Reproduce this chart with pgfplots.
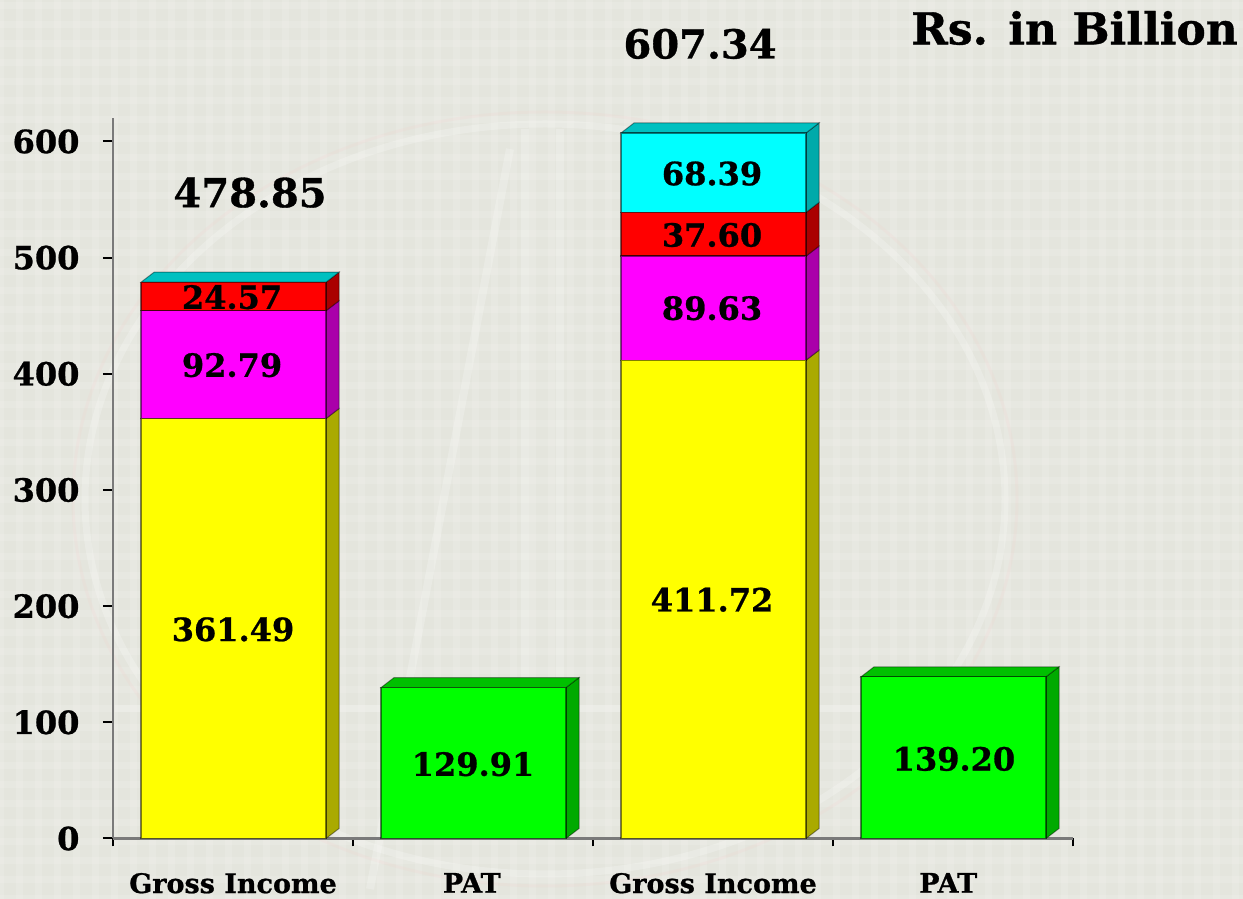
\documentclass[border=0pt]{standalone}
\usepackage{fontspec}
\setmainfont{DejaVu Serif}[BoldFeatures={FakeBold=0.8}]
\usepackage{pgfplots}
\usepackage{pgfplotstable}
\pgfplotsset{compat=1.18}

\definecolor{paper}{HTML}{E4E5DD}
\definecolor{axgrey}{HTML}{7A7A7A}
\definecolor{cyel}{RGB}{255,255,0}
\definecolor{cmag}{RGB}{255,0,255}
\definecolor{cred}{RGB}{255,0,0}
\definecolor{ccya}{RGB}{0,255,255}
\definecolor{cgre}{RGB}{0,255,0}
\definecolor{syel}{RGB}{170,170,0}
\definecolor{smag}{RGB}{170,0,170}
\definecolor{sred}{RGB}{170,0,0}
\definecolor{scya}{RGB}{0,170,170}
\definecolor{sgre}{RGB}{0,170,0}
\definecolor{tcya}{RGB}{0,192,192}
\definecolor{tgre}{RGB}{0,192,0}

% front faces of the columns, x in bins of the axis
\pgfplotstableread{
x     yellow  magenta red    cyan   green
0.502 361.49  92.79   24.57  0      0
1.502 0       0       0      0      129.91
2.502 411.72  89.63   37.60  68.39  0
3.502 0       0       0      0      139.20
}\incometable

\pgfplotsset{
    face/.style={fill=#1, draw=black, draw opacity=0.5, line width=1.2pt},
    side/.style={fill=#1, draw=black, draw opacity=0.4, line width=1pt, no markers, forget plot},
    same box/.style={
        at={(113pt,60.5pt)}, anchor=south west,
        scale only axis, width=960pt, height=720pt,
        xmin=0, xmax=4, ymin=0, ymax=619.8,
    },
}
\tikzset{
    lab/.style={font=\fontsize{32}{32}\selectfont\bfseries, inner sep=0pt},
    big/.style={font=\fontsize{40}{40}\selectfont\bfseries, inner sep=0pt},
}

\begin{document}
\begin{tikzpicture}
\useasboundingbox (0,0) rectangle (1243pt,899pt);
\fill[paper] (0,0) rectangle (1243pt,899pt);
% woven paper texture
\foreach \i in {0,19,...,1243} \draw[white, opacity=0.13, line width=7pt] (\i pt,0) -- (\i pt,899pt);
\foreach \i in {0,19,...,899} \draw[white, opacity=0.13, line width=7pt] (0,\i pt) -- (1243pt,\i pt);
% faint logo behind the chart
\draw[white, opacity=0.22, line width=7pt] (545pt,400pt) ellipse (460pt and 375pt);
\draw[pink, opacity=0.10, line width=3pt] (545pt,400pt) ellipse (472pt and 387pt);
\draw[white, opacity=0.22, line width=8pt] (370pt,10pt) -- (510pt,750pt);
\draw[white, opacity=0.22, line width=8pt] (525pt,770pt) -- (525pt,60pt);
\draw[white, opacity=0.22, line width=8pt] (560pt,770pt) -- (560pt,60pt);
\draw[white, opacity=0.18, line width=7pt] (115pt,190pt) -- (1000pt,190pt);

\begin{axis}[
    same box,
    axis x line*=bottom, axis y line*=left,
    axis line style={axgrey, line width=2.2pt, -},
    xtick={0.5,1.495,2.5,3.48},
    xticklabels={Gross Income,PAT,Gross Income,PAT},
    minor xtick={0,1,2,3,4},
    major x tick style={draw=none},
    minor x tick style={black, line width=2pt},
    minor tick length=8pt,
    x tick label style={font=\fontsize{27}{27}\selectfont\bfseries, yshift=-21pt},
    ytick={0,100,200,300,400,500,600},
    y tick style={black, line width=2pt},
    major tick length=10pt,
    tick align=outside,
    y tick label style={font=\fontsize{32}{32}\selectfont\bfseries, xshift=-20pt},
    /pgf/number format/assume math mode=true,
]
% right hand sides
\addplot[side=syel] coordinates {(0.8875,0) (0.9417,8.6) (0.9417,370.09) (0.8875,361.49)} --cycle;
\addplot[side=smag] coordinates {(0.8875,361.49) (0.9417,370.09) (0.9417,462.88) (0.8875,454.28)} --cycle;
\addplot[side=sred] coordinates {(0.8875,454.28) (0.9417,462.88) (0.9417,487.45) (0.8875,478.85)} --cycle;
\addplot[side=sgre] coordinates {(1.8875,0) (1.9417,8.6) (1.9417,138.51) (1.8875,129.91)} --cycle;
\addplot[side=syel] coordinates {(2.8875,0) (2.9417,8.6) (2.9417,420.32) (2.8875,411.72)} --cycle;
\addplot[side=smag] coordinates {(2.8875,411.72) (2.9417,420.32) (2.9417,509.95) (2.8875,501.35)} --cycle;
\addplot[side=sred] coordinates {(2.8875,501.35) (2.9417,509.95) (2.9417,547.55) (2.8875,538.95)} --cycle;
\addplot[side=scya] coordinates {(2.8875,538.95) (2.9417,547.55) (2.9417,615.94) (2.8875,607.34)} --cycle;
\addplot[side=sgre] coordinates {(3.8875,0) (3.9417,8.6) (3.9417,147.8) (3.8875,139.20)} --cycle;
% top faces
\addplot[side=tcya] coordinates {(0.1167,478.85) (0.1709,487.45) (0.9417,487.45) (0.8875,478.85)} --cycle;
\addplot[side=tgre] coordinates {(1.1167,129.91) (1.1709,138.51) (1.9417,138.51) (1.8875,129.91)} --cycle;
\addplot[side=tcya] coordinates {(2.1167,607.34) (2.1709,615.94) (2.9417,615.94) (2.8875,607.34)} --cycle;
\addplot[side=tgre] coordinates {(3.1167,139.20) (3.1709,147.8) (3.9417,147.8) (3.8875,139.20)} --cycle;
\end{axis}

\begin{axis}[
    same box,
    hide axis,
    ybar stacked, bar width=185pt,
]
\addplot[face=cyel] table[x=x, y=yellow] {\incometable};
\addplot[face=cmag] table[x=x, y=magenta] {\incometable};
\addplot[face=cred] table[x=x, y=red] {\incometable};
\addplot[face=ccya] table[x=x, y=cyan] {\incometable};
\addplot[face=cgre] table[x=x, y=green] {\incometable};
\end{axis}

% value labels go in their own axis, stacked plots are drawn last
\begin{axis}[same box, hide axis, clip=false]
\node[lab] at (axis cs:0.50,180) {361.49};
\node[lab] at (axis cs:0.496,407.5) {92.79};
\node[lab] at (axis cs:0.496,466) {24.57};
\node[lab] at (axis cs:1.50,64) {129.91};
\node[lab] at (axis cs:2.496,205.5) {411.72};
\node[lab] at (axis cs:2.496,456.5) {89.63};
\node[lab] at (axis cs:2.496,519.5) {37.60};
\node[lab] at (axis cs:2.496,572.4) {68.39};
\node[lab] at (axis cs:3.504,68.5) {139.20};
\node[big] at (axis cs:0.571,556) {478.85};
\node[big] at (axis cs:2.446,684) {607.34};
\end{axis}

\node[font=\fontsize{44}{44}\selectfont\bfseries, inner sep=0pt, anchor=east] at (1238pt,871pt) {Rs. in Billion};
\end{tikzpicture}
\end{document}
